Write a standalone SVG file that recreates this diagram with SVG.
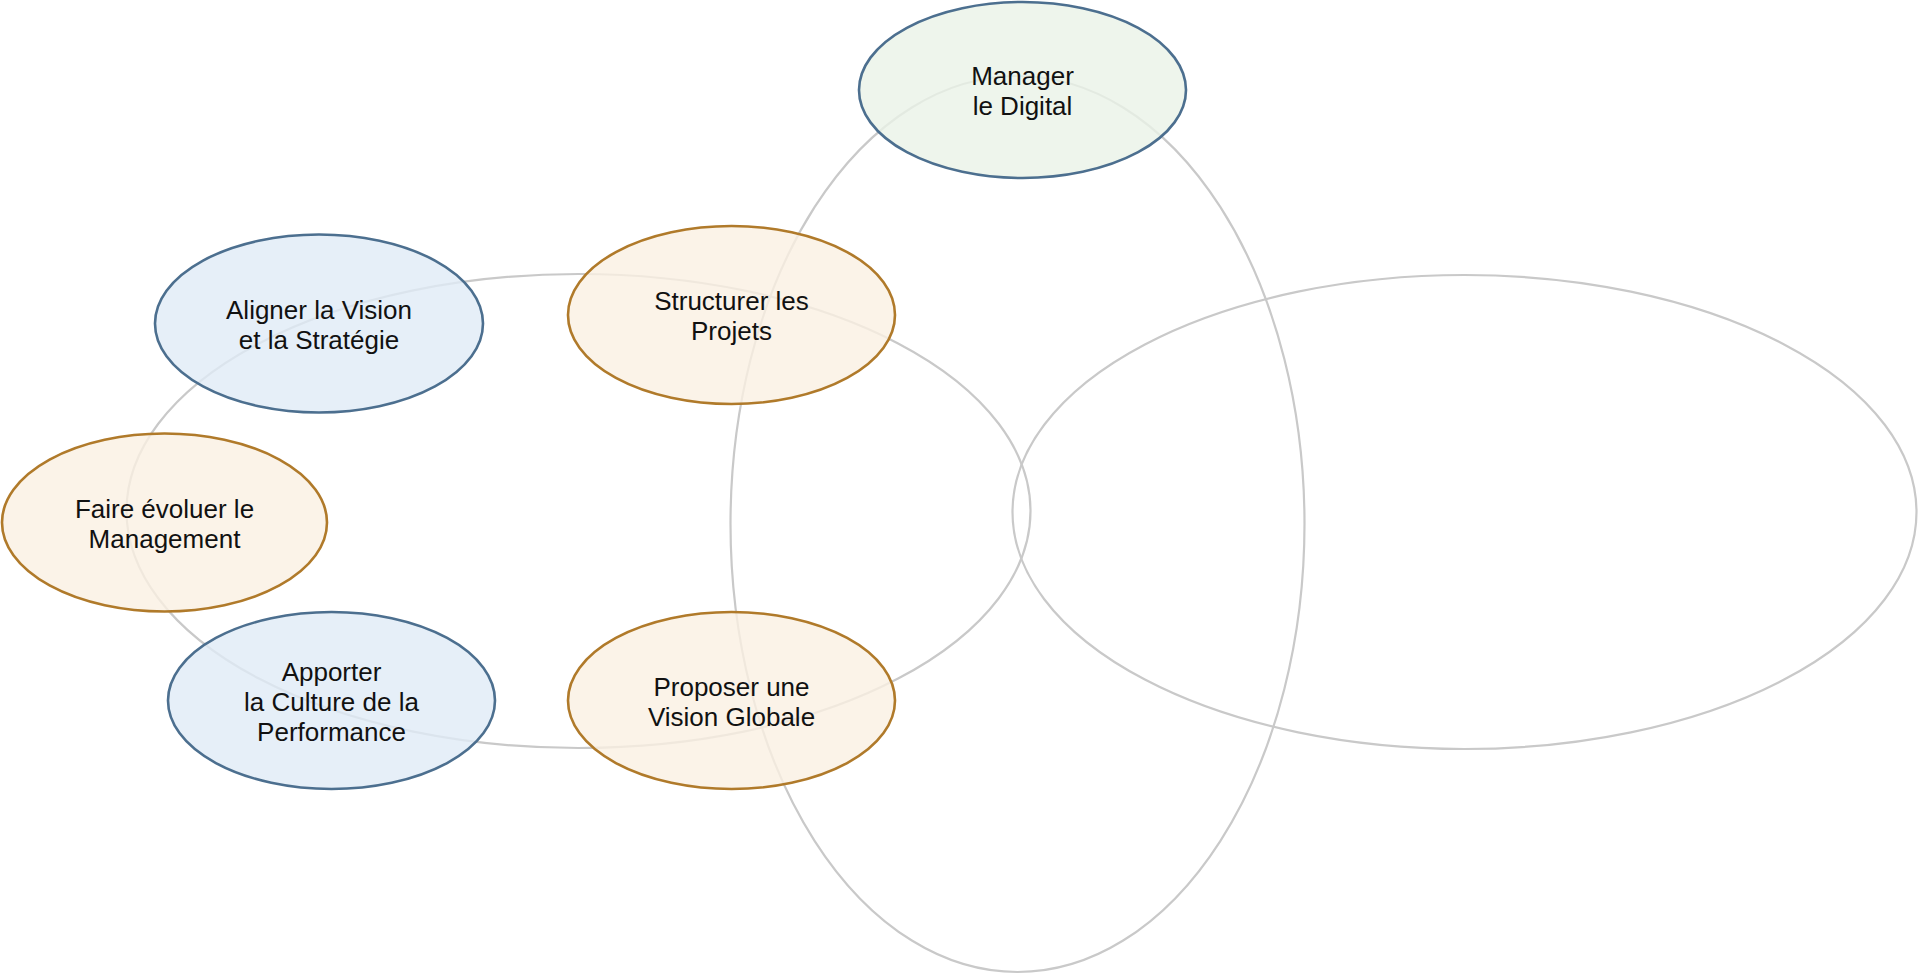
<svg xmlns="http://www.w3.org/2000/svg" width="1920" height="975" viewBox="0 0 1920 975">
  <style>
    .ring { fill: none; stroke: #c9c9c9; stroke-width: 2.2; }
    .blue { fill: #e0ebf6; fill-opacity: 0.8; stroke: #4c6f8f; stroke-width: 2.6; }
    .orange { fill: #faf0e2; fill-opacity: 0.8; stroke: #b07a2a; stroke-width: 2.6; }
    .green { fill: #eaf2e7; fill-opacity: 0.8; stroke: #4c6f8f; stroke-width: 2.6; }
    .lbl { font-family: "Liberation Sans", Arial, sans-serif; font-size: 26px; fill: #111111; text-anchor: middle; }
  </style>
  <rect x="0" y="0" width="1920" height="975" fill="#ffffff"/>
  <g id="rings">
    <ellipse class="ring" cx="578.5" cy="511" rx="452" ry="237"/>
    <ellipse class="ring" cx="1017.5" cy="524" rx="287" ry="448"/>
    <ellipse class="ring" cx="1464.5" cy="512" rx="452" ry="237"/>
  </g>
  <g id="connectors"/>
  <g id="node-manager">
    <ellipse class="green" cx="1022.5" cy="90" rx="163.5" ry="88"/>
    <text class="lbl" x="1022.5" y="85">Manager</text>
    <text class="lbl" x="1022.5" y="115">le Digital</text>
  </g>
  <g id="node-aligner">
    <ellipse class="blue" cx="319" cy="323.5" rx="164" ry="89"/>
    <text class="lbl" x="319" y="319">Aligner la Vision</text>
    <text class="lbl" x="319" y="349">et la Stratégie</text>
  </g>
  <g id="node-structurer">
    <ellipse class="orange" cx="731.5" cy="315" rx="163.5" ry="89"/>
    <text class="lbl" x="731.5" y="310">Structurer les</text>
    <text class="lbl" x="731.5" y="340">Projets</text>
  </g>
  <g id="node-faire">
    <ellipse class="orange" cx="164.5" cy="522.5" rx="162.5" ry="89"/>
    <text class="lbl" x="164.5" y="518">Faire évoluer le</text>
    <text class="lbl" x="164.5" y="548">Management</text>
  </g>
  <g id="node-apporter">
    <ellipse class="blue" cx="331.5" cy="700.5" rx="163.5" ry="88.5"/>
    <text class="lbl" x="331.5" y="681">Apporter</text>
    <text class="lbl" x="331.5" y="711">la Culture de la</text>
    <text class="lbl" x="331.5" y="741">Performance</text>
  </g>
  <g id="node-proposer">
    <ellipse class="orange" cx="731.5" cy="700.5" rx="163.5" ry="88.5"/>
    <text class="lbl" x="731.5" y="696">Proposer une</text>
    <text class="lbl" x="731.5" y="726">Vision Globale</text>
  </g>
</svg>
